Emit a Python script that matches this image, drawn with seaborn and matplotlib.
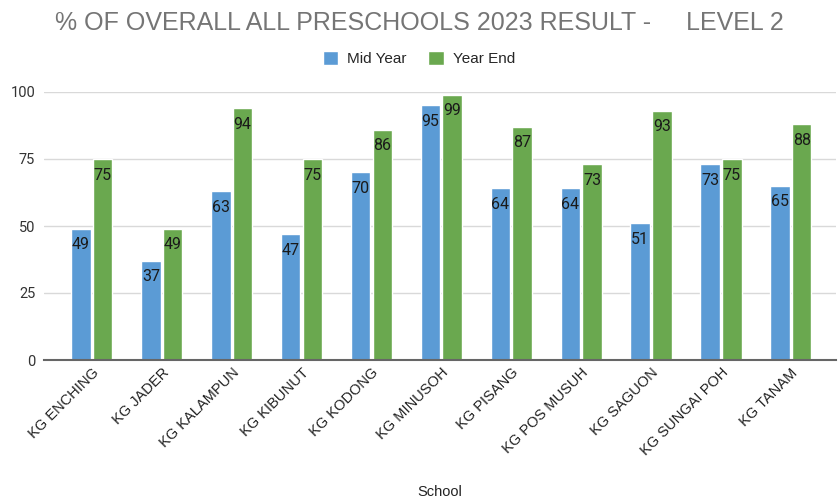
"""Mid year vs year end results of preschools, level 2."""

import matplotlib.pyplot as plt
import pandas as pd
import seaborn as sns

schools = ["KG ENCHING", "KG JADER", "KG KALAMPUN", "KG KIBUNUT", "KG KODONG",
           "KG MINUSOH", "KG PISANG", "KG POS MUSUH", "KG SAGUON",
           "KG SUNGAI POH", "KG TANAM"]
mid_year = [49, 37, 63, 47, 70, 95, 64, 64, 51, 73, 65]
year_end = [75, 49, 94, 75, 86, 99, 87, 73, 93, 75, 88]
series = ["Mid Year", "Year End"]
colors = ["#5b9bd5", "#6aa84f"]
yticks = [0, 25, 50, 75, 100]

narrow = ["Liberation Sans", "DejaVu Sans"]


def main():
    df = pd.DataFrame({"School": schools * 2,
                       "Value": mid_year + year_end,
                       "Series": [series[0]] * len(schools)
                       + [series[1]] * len(schools)})

    sns.set_theme(style="whitegrid")
    plt.rcParams["font.family"] = ["Roboto", "DejaVu Sans"]

    fig = plt.figure(figsize=(8.38, 5.0), dpi=100)
    ax = fig.add_axes([0.052, 0.28, 0.946, 0.536])
    sns.barplot(data=df, x="School", y="Value", hue="Series",
                palette=colors, saturation=1, width=0.62, gap=0.1, ax=ax,
                legend=True)

    # Value labels inside bar tops
    for cont in ax.containers:
        ax.bar_label(cont, fmt="%.0f", padding=-17, fontsize=11.5,
                     color="#1a1a1a")

    ax.set_ylim(0, 100)
    ax.set_xlim(-0.69, 10.65)
    ax.set_yticks(yticks)
    ax.tick_params(axis="y", labelsize=10.5, labelcolor="#333333", pad=6,
                   length=0)
    ax.tick_params(axis="x", length=0, pad=4)
    plt.setp(ax.get_xticklabels(), rotation=45, ha="right",
             rotation_mode="anchor", family=narrow, fontsize=10.5,
             color="#222222")
    ax.grid(axis="y", color="#d9d9d9", linewidth=1)
    ax.grid(axis="x", visible=False)
    for side in ["top", "right", "left"]:
        ax.spines[side].set_visible(False)
    ax.spines["bottom"].set_color("#666666")
    ax.spines["bottom"].set_linewidth(1.5)
    ax.set_ylabel("")
    ax.set_xlabel("School", family=narrow, fontsize=10.5, color="#222222")
    ax.xaxis.set_label_coords(0.5, -0.465)

    handles, labels = ax.get_legend_handles_labels()
    ax.legend(handles, labels, loc="center", bbox_to_anchor=(0.5, 0.883),
              bbox_transform=fig.transFigure, ncol=2, frameon=False,
              handlelength=1.0, handleheight=1.0, handletextpad=0.6,
              columnspacing=1.4, prop={"family": narrow, "size": 11})

    fig.text(0.5, 0.953, "% OF OVERALL ALL PRESCHOOLS 2023 RESULT -     LEVEL 2",
             ha="center", va="center", family=narrow, fontsize=18,
             color="#757575")

    fig.savefig("out.png", dpi=100)


if __name__ == "__main__":
    main()
